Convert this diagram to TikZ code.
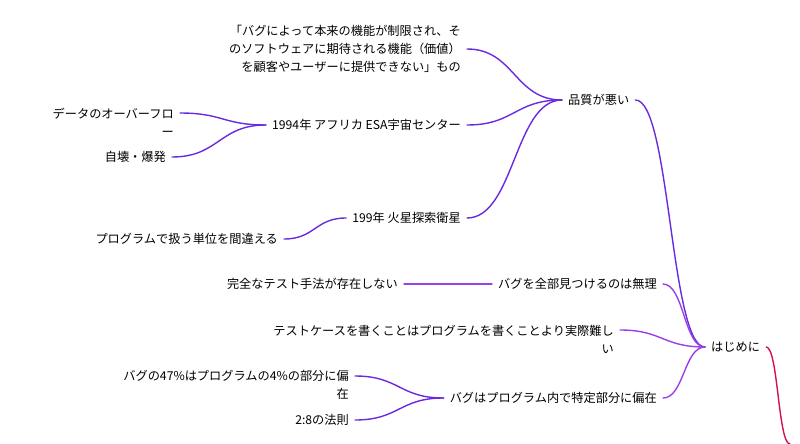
\documentclass[tikz,border=0pt]{standalone}
\usepackage{fontspec}
\newfontfamily\cjk{Noto Sans CJK JP}
\usetikzlibrary{positioning, calc}
\definecolor{deeppurple}{HTML}{6A2BE0}
\definecolor{midpurple}{HTML}{9B3FE8}
\definecolor{rootred}{HTML}{D0105A}
\tikzset{
    topic/.style={inner xsep=6pt, inner ysep=2pt, font=\cjk\fontsize{12.2}{18}\selectfont, align=right},
    branch/.style={line width=1.4pt, line cap=round}
}
\newcommand{\scurve}[3]{%
    \draw[branch, #1] let \p1 = (#2), \p2 = (#3) in
        (\p1) .. controls ({0.5*\x1+0.5*\x2}, \y1) and ({0.5*\x1+0.5*\x2}, \y2) .. (\p2);
}
\begin{document}
\begin{tikzpicture}[x=1pt, y=-1pt]
    \useasboundingbox (0,0) rectangle (800,444);

    % main topics
    \node[topic, anchor=west] (intro) at (705,347) {はじめに};
    \node[topic, anchor=west] (quality) at (562,100) {品質が悪い};
    \coordinate (rootend) at (790,444);

    % quality branch
    \node[topic, anchor=east] (meaning) at (467,49)
        {「バグによって本来の機能が制限され、そ\\のソフトウェアに期待される機能（価値）\\を顧客やユーザーに提供できない」もの};
    \node[topic, anchor=east] (esa) at (467,125) {1994年 アフリカ ESA宇宙センター};
    \node[topic, anchor=east, align=right] (overflow) at (180,122) {データのオーバーフロ\\ー};
    \coordinate (overflowtop) at (180,113);
    \node[topic, anchor=east] (explode) at (172,157) {自壊・爆発};
    \node[topic, anchor=east] (mars) at (467,218) {199年 火星探索衛星};
    \node[topic, anchor=east] (units) at (284,239) {プログラムで扱う単位を間違える};

    % intro branch
    \node[topic, anchor=east] (findall) at (663,284) {バグを全部見つけるのは無理};
    \node[topic, anchor=east] (nomethod) at (404,284) {完全なテスト手法が存在しない};
    \node[topic, anchor=east] (harder) at (620,339)
        {テストケースを書くことはプログラムを書くことより実際難し\\い};
    \coordinate (hardertop) at (620,330);
    \node[topic, anchor=east] (biased) at (663,398) {バグはプログラム内で特定部分に偏在};
    \node[topic, anchor=east] (ratio) at (355,385) {バグの47\%はプログラムの4\%の部分に偏\\在};
    \coordinate (ratiotop) at (355,376);
    \node[topic, anchor=east] (rule) at (355,420) {2:8の法則};

    % connectors
    \scurve{rootred}{intro.east}{rootend}
    \scurve{deeppurple}{quality.east}{intro.west}
    \scurve{deeppurple}{meaning.east}{quality.west}
    \scurve{deeppurple}{esa.east}{quality.west}
    \scurve{deeppurple}{mars.east}{quality.west}
    \scurve{deeppurple}{overflowtop}{esa.west}
    \scurve{deeppurple}{explode.east}{esa.west}
    \scurve{deeppurple}{units.east}{mars.west}
    \scurve{midpurple}{findall.east}{intro.west}
    \scurve{midpurple}{hardertop}{intro.west}
    \scurve{midpurple}{biased.east}{intro.west}
    \draw[branch, midpurple] (nomethod.east) -- (findall.west);
    \scurve{deeppurple}{ratiotop}{biased.west}
    \scurve{deeppurple}{rule.east}{biased.west}
\end{tikzpicture}
\end{document}
